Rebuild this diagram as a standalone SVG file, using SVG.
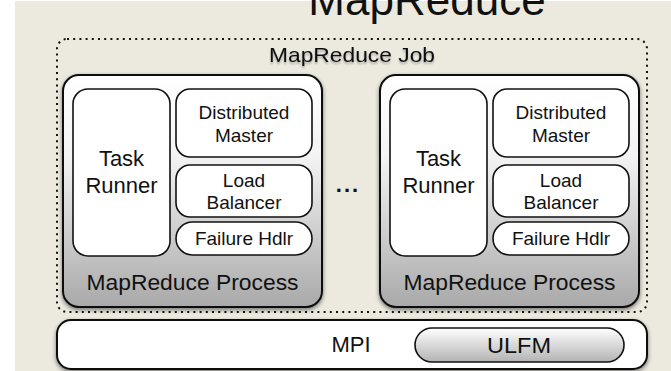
<svg xmlns="http://www.w3.org/2000/svg" width="671" height="371" viewBox="0 0 671 371">
  <defs>
    <linearGradient id="procFill" x1="0" y1="0" x2="0" y2="1">
      <stop offset="0" stop-color="#ffffff"/>
      <stop offset="0.35" stop-color="#f3f3f3"/>
      <stop offset="1" stop-color="#a9a9a9"/>
    </linearGradient>
    <linearGradient id="pillFill" x1="0" y1="0" x2="0" y2="1">
      <stop offset="0" stop-color="#ffffff"/>
      <stop offset="1" stop-color="#b3b3b3"/>
    </linearGradient>
    <filter id="boxShadow" x="-10%" y="-10%" width="120%" height="125%">
      <feGaussianBlur in="SourceAlpha" stdDeviation="2"/>
      <feOffset dx="0" dy="2" result="b"/>
      <feComponentTransfer><feFuncA type="linear" slope="0.5"/></feComponentTransfer>
      <feMerge><feMergeNode/><feMergeNode in="SourceGraphic"/></feMerge>
    </filter>
    <filter id="textShadow" x="-10%" y="-30%" width="120%" height="160%">
      <feGaussianBlur in="SourceAlpha" stdDeviation="1"/>
      <feOffset dx="0" dy="1.5" result="b"/>
      <feComponentTransfer><feFuncA type="linear" slope="0.3"/></feComponentTransfer>
      <feMerge><feMergeNode/><feMergeNode in="SourceGraphic"/></feMerge>
    </filter>
  </defs>
  <style>
    text { font-family: "Liberation Sans", Arial, Helvetica, sans-serif; fill: #111; text-anchor: middle; }
    .lbl { font-size: 22px; }
    .sm { font-size: 19px; }
    .proc { fill: url(#procFill); stroke: #111; stroke-width: 2; }
    .inner { fill: #ffffff; stroke: #111; stroke-width: 1.6; }
    .job { fill: none; stroke: #111; stroke-width: 2; stroke-dasharray: 2 4.2; }
  </style>

  <!-- page background -->
  <rect x="0" y="0" width="671" height="371" fill="#ffffff"/>
  <rect x="15" y="1" width="656" height="370" fill="#ecE9df"/>

  <!-- heading (runs off the top edge) -->
  <text x="427" y="15" style="font-size:44px">MapReduce</text>

  <!-- job boundary -->
  <g id="mapreduce-job">
    <rect class="job" x="57" y="39" width="590" height="273" rx="10"/>
    <text class="lbl" x="352" y="62" style="font-size:21px" textLength="166" lengthAdjust="spacingAndGlyphs" filter="url(#textShadow)">MapReduce Job</text>
  </g>

  <!-- first process -->
  <g id="process-1">
    <rect class="proc" x="63" y="75" width="259" height="232" rx="16" filter="url(#boxShadow)"/>
    <g id="task-runner-1">
      <rect class="inner" x="73" y="89" width="97" height="167" rx="15"/>
      <text class="lbl" x="121.5" y="166">Task</text>
      <text class="lbl" x="121.5" y="193">Runner</text>
    </g>
    <g id="distributed-master-1">
      <rect class="inner" x="176" y="89" width="136" height="68" rx="14"/>
      <text class="sm" x="244" y="119">Distributed</text>
      <text class="sm" x="244" y="142">Master</text>
    </g>
    <g id="load-balancer-1">
      <rect class="inner" x="176" y="165" width="136" height="52" rx="14"/>
      <text class="sm" x="244" y="187">Load</text>
      <text class="sm" x="244" y="209">Balancer</text>
    </g>
    <g id="failure-hdlr-1">
      <rect class="inner" x="176" y="222" width="136" height="33" rx="16.5"/>
      <text class="sm" x="244" y="245">Failure Hdlr</text>
    </g>
    <text class="lbl" x="192.5" y="290" textLength="212" lengthAdjust="spacingAndGlyphs">MapReduce Process</text>
  </g>

  <!-- second process -->
  <g id="process-2" transform="translate(317,0)">
    <rect class="proc" x="63" y="75" width="259" height="232" rx="16" filter="url(#boxShadow)"/>
    <g id="task-runner-2">
      <rect class="inner" x="73" y="89" width="97" height="167" rx="15"/>
      <text class="lbl" x="121.5" y="166">Task</text>
      <text class="lbl" x="121.5" y="193">Runner</text>
    </g>
    <g id="distributed-master-2">
      <rect class="inner" x="176" y="89" width="136" height="68" rx="14"/>
      <text class="sm" x="244" y="119">Distributed</text>
      <text class="sm" x="244" y="142">Master</text>
    </g>
    <g id="load-balancer-2">
      <rect class="inner" x="176" y="165" width="136" height="52" rx="14"/>
      <text class="sm" x="244" y="187">Load</text>
      <text class="sm" x="244" y="209">Balancer</text>
    </g>
    <g id="failure-hdlr-2">
      <rect class="inner" x="176" y="222" width="136" height="33" rx="16.5"/>
      <text class="sm" x="244" y="245">Failure Hdlr</text>
    </g>
    <text class="lbl" x="192.5" y="290" textLength="212" lengthAdjust="spacingAndGlyphs">MapReduce Process</text>
  </g>

  <!-- ellipsis between the processes -->
  <text x="348" y="192" style="font-size:22px;font-weight:bold;letter-spacing:2px">...</text>

  <!-- MPI layer -->
  <g id="mpi">
    <rect x="57" y="320" width="590" height="49" rx="14" fill="#ffffff" stroke="#111" stroke-width="2" filter="url(#boxShadow)"/>
    <text class="lbl" x="351" y="352">MPI</text>
    <g id="ulfm">
      <rect x="415" y="328" width="209" height="34" rx="17" fill="url(#pillFill)" stroke="#111" stroke-width="1.6"/>
      <text class="lbl" x="519" y="353" textLength="64" lengthAdjust="spacingAndGlyphs">ULFM</text>
    </g>
  </g>

  <g id="connectors"/>
</svg>
